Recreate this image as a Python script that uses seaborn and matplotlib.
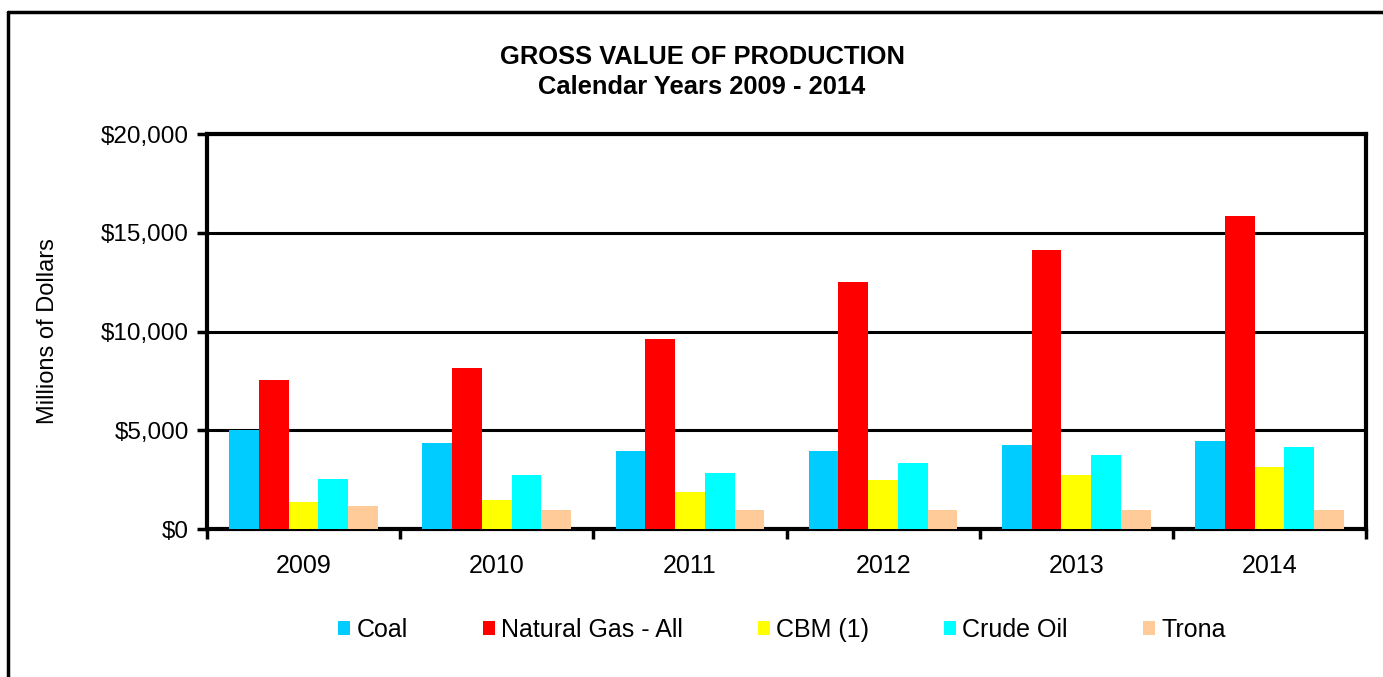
import matplotlib
matplotlib.use("Agg")
import matplotlib.pyplot as plt
from matplotlib.lines import Line2D
from matplotlib.ticker import FuncFormatter, MultipleLocator, FixedLocator
import seaborn as sns
import pandas as pd

# values in millions of dollars
years = ["2009", "2010", "2011", "2012", "2013", "2014"]
coal = [5030, 4350, 3950, 3950, 4250, 4450]
natural_gas = [7540, 8150, 9620, 12500, 14150, 15830]
cbm = [1360, 1470, 1870, 2470, 2730, 3140]
crude_oil = [2550, 2750, 2850, 3360, 3750, 4150]
trona = [1150, 960, 960, 960, 960, 960]

series = ["Coal", "Natural Gas - All", "CBM (1)", "Crude Oil", "Trona"]
colors = ["#00CCFF", "#FF0000", "#FFFF00", "#00FFFF", "#FFCC99"]

rows = []
for name, vals in zip(series, [coal, natural_gas, cbm, crude_oil, trona]):
    for y, v in zip(years, vals):
        rows.append({"Year": y, "Source": name, "Value": v})
df = pd.DataFrame(rows)

sns.set_style("white")
plt.rcParams["font.family"] = ["Liberation Sans", "DejaVu Sans"]
plt.rcParams["text.color"] = "black"
plt.rcParams["axes.labelcolor"] = "black"
plt.rcParams["xtick.color"] = "black"
plt.rcParams["ytick.color"] = "black"

fig = plt.figure(figsize=(13.83, 6.77), dpi=100)
ax = fig.add_axes([207 / 1383, 1 - 529 / 677, (1366 - 207) / 1383, (529 - 134) / 677])

sns.barplot(data=df, x="Year", y="Value", hue="Source", hue_order=series,
            palette=colors, width=0.77, saturation=1, ax=ax, legend=True,
            linewidth=0, zorder=3)

ax.set_ylim(0, 20000)
ax.set_xlim(-0.5, len(years) - 0.5)
ax.yaxis.set_major_locator(MultipleLocator(5000))
ax.yaxis.set_major_formatter(FuncFormatter(lambda v, p: "${:,.0f}".format(v)))
ax.yaxis.grid(True, color="black", linewidth=2.2, zorder=0)
ax.set_axisbelow(True)

# ticks sit between the year groups
ax.xaxis.set_major_locator(FixedLocator([i - 0.5 for i in range(len(years) + 1)]))
ax.xaxis.set_minor_locator(FixedLocator(range(len(years))))
ax.xaxis.set_major_formatter(FuncFormatter(lambda v, p: ""))
ax.set_xticklabels(years, minor=True)
ax.tick_params(axis="x", which="major", bottom=True, direction="out", length=7,
               width=2.5, color="black")
ax.tick_params(axis="x", which="minor", bottom=True, length=0, labelsize=18, pad=18)
ax.tick_params(axis="y", left=True, direction="out", length=7, width=2.5,
               color="black", labelsize=17.5, pad=6)

for s in ax.spines.values():
    s.set_color("black")
    s.set_linewidth(3)

ax.set_xlabel("")
ax.set_ylabel("Millions of Dollars", fontsize=17)
ax.yaxis.set_label_coords((59 - 207) / 1159, 0.5)

leg = ax.legend(loc="center", bbox_to_anchor=(782 / 1383, 1 - 630 / 677),
                bbox_transform=fig.transFigure, ncol=5, frameon=False,
                fontsize=18, handlelength=0.48, handleheight=0.48,
                handletextpad=0.25, columnspacing=3.0)

fig.text(702 / 1383, 1 - 57 / 677, "GROSS VALUE OF PRODUCTION", ha="center",
         va="center", fontsize=18.4, fontweight="bold")
fig.text(702 / 1383, 1 - 87 / 677, "Calendar Years 2009 - 2014", ha="center",
         va="center", fontsize=18.4, fontweight="bold")

# outer chart frame (only top and left edges visible in the crop)
fig.add_artist(Line2D([8 / 1383, 8 / 1383], [0, 1 - 12 / 677], color="black", linewidth=2.5,
                      transform=fig.transFigure))
fig.add_artist(Line2D([8 / 1383, 1], [1 - 12 / 677, 1 - 12 / 677], color="black", linewidth=2.5,
                      transform=fig.transFigure))

fig.savefig("out.png", dpi=100)
